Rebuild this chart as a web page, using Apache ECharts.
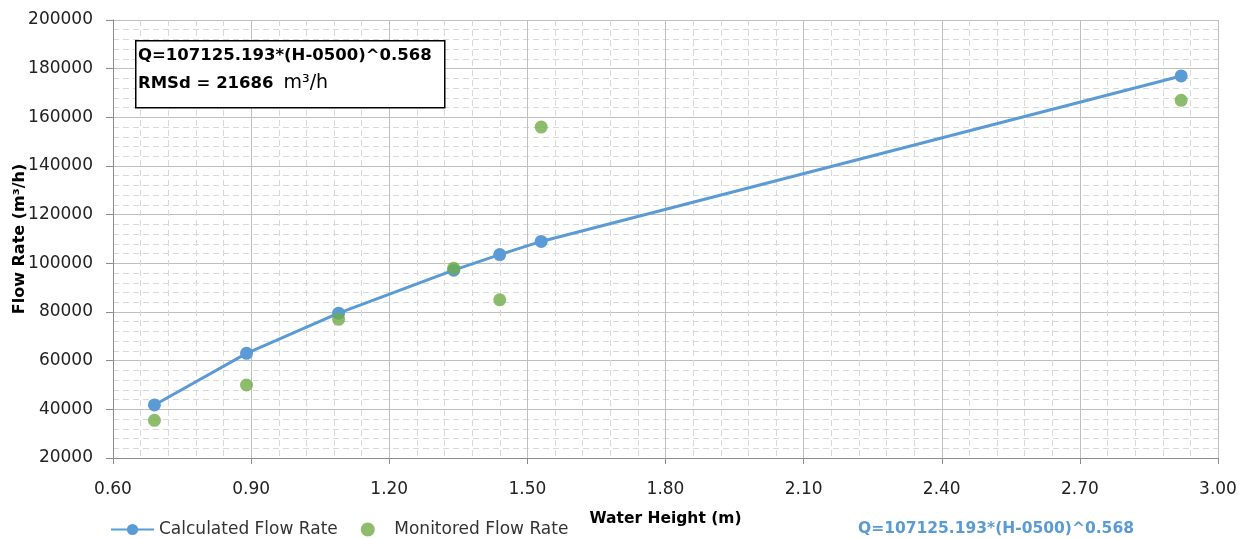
<!DOCTYPE html>
<html><head><meta charset="utf-8">
<script src="https://cdn.jsdelivr.net/npm/echarts@6/dist/echarts.min.js"></script>
<style>html,body{margin:0;padding:0;background:#fff}#c{width:1244px;height:538px}</style>
</head><body><div id="c"></div>
<script>
const waterHeight = [0.69, 0.89, 1.09, 1.34, 1.44, 1.53, 2.92];
const calculatedFlow = [41800, 63000, 79500, 97200, 103600, 109000, 177000];
const monitoredFlow = [35500, 50000, 77000, 98000, 85000, 156000, 167000];
const seriesNames = ['Calculated Flow Rate', 'Monitored Flow Rate'];
const equationText = 'Q=107125.193*(H-0500)^0.568';
const rmsdText = 'RMSd = 21686';
const unitText = 'm\u00b3/h';

const chart = echarts.init(document.getElementById('c'), null, {renderer: 'canvas'});
const font = 'DejaVu Sans';
chart.setOption({
  animation: false,
  backgroundColor: '#fff',
  grid: {left: 113, right: 26, top: 20, bottom: 80, containLabel: false, outerBoundsMode: 'none'},
  xAxis: {
    type: 'value', min: 0.6, max: 3.0, interval: 0.3,
    name: 'Water Height (m)', nameLocation: 'middle', nameGap: 53, nameMoveOverlap: false,
    nameTextStyle: {fontFamily: font, fontWeight: 'bold', fontSize: 15.5, color: '#000'},
    axisLine: {show: true, lineStyle: {color: '#8c8c8c', width: 1}},
    axisTick: {show: true, length: 6, lineStyle: {color: '#8c8c8c'}},
    axisLabel: {fontFamily: font, fontSize: 17, color: '#222', margin: 23, formatter: v => v.toFixed(2)},
    splitLine: {show: true, lineStyle: {color: '#bfbfbf', width: 1}},
    minorTick: {show: false, splitNumber: 5},
    minorSplitLine: {show: true, lineStyle: {color: '#d9d9d9', type: [6, 4], width: 1}}
  },
  yAxis: {
    type: 'value', min: 20000, max: 200000, interval: 20000,
    name: 'Flow Rate (m\u00b3/h)', nameLocation: 'middle', nameGap: 85, nameMoveOverlap: false,
    nameTextStyle: {fontFamily: font, fontWeight: 'bold', fontSize: 16, color: '#000'},
    axisLine: {show: true, lineStyle: {color: '#8c8c8c', width: 1}},
    axisTick: {show: true, length: 7, lineStyle: {color: '#8c8c8c'}},
    axisLabel: {fontFamily: font, fontSize: 17, color: '#222', margin: 20, formatter: v => String(v)},
    splitLine: {show: true, lineStyle: {color: '#bfbfbf', width: 1}},
    minorTick: {show: false, splitNumber: 5},
    minorSplitLine: {show: true, lineStyle: {color: '#d9d9d9', type: [6, 4], width: 1}}
  },
  legend: {
    left: 110, top: 521, itemGap: 23, itemWidth: 43, itemHeight: 14, padding: 0,
    textStyle: {fontFamily: font, fontSize: 17, color: '#333'},
    data: [{name: seriesNames[0]}, {name: seriesNames[1]}]
  },
  series: [
    {
      name: seriesNames[0], type: 'line',
      data: waterHeight.map((h, i) => [h, calculatedFlow[i]]),
      symbol: 'circle', symbolSize: 13,
      lineStyle: {color: '#5b9bd5', width: 3},
      itemStyle: {color: '#5b9bd5'},
      z: 3
    },
    {
      name: seriesNames[1], type: 'scatter',
      data: waterHeight.map((h, i) => [h, monitoredFlow[i]]),
      symbol: 'circle', symbolSize: 13,
      itemStyle: {color: '#70ad47'},
      z: 4
    }
  ],
  graphic: [
    {type: 'rect', left: 135, top: 40, shape: {width: 309, height: 67},
     style: {fill: '#fff', stroke: '#000', lineWidth: 1.5}, z: 100},
    {type: 'text', left: 138, top: 47, z: 101,
     style: {text: equationText, fontFamily: font, fontWeight: 'bold', fontSize: 16.5, fill: '#000'}},
    {type: 'text', left: 138, top: 74, z: 101,
     style: {text: '{b|' + rmsdText + '}   {r|' + unitText + '}',
       rich: {b: {fontFamily: font, fontWeight: 'bold', fontSize: 16.5, color: '#000'},
              r: {fontFamily: font, fontSize: 19, color: '#000'}}}},
    {type: 'text', left: 858, top: 521, z: 101,
     style: {text: equationText, fontFamily: font, fontWeight: 'bold', fontSize: 15.5, fill: '#5b9bd5'}}
  ]
});
</script></body></html>
